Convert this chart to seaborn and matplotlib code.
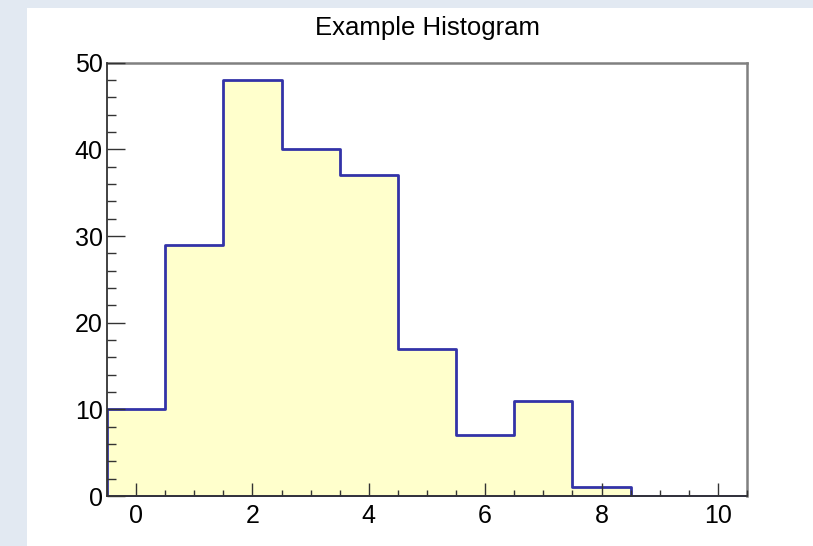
import matplotlib
matplotlib.use("Agg")
import matplotlib.pyplot as plt
from matplotlib.patches import Rectangle
from matplotlib.ticker import MultipleLocator
import seaborn as sns
import numpy as np

bin_centers = [0, 1, 2, 3, 4, 5, 6, 7, 8, 9, 10]
counts = [10, 29, 48, 40, 37, 17, 7, 11, 1, 0, 0]
bin_edges = [-0.5, 0.5, 1.5, 2.5, 3.5, 4.5, 5.5, 6.5, 7.5, 8.5, 9.5, 10.5]
x_ticks = [0, 2, 4, 6, 8, 10]
y_ticks = [0, 10, 20, 30, 40, 50]
title = "Example Histogram"

sns.set_theme(style="white")
plt.rcParams['font.family'] = ['Liberation Sans', 'DejaVu Sans']

fig = plt.figure(figsize=(8.13, 5.46), dpi=100)
fig.patch.set_facecolor("#e2e9f2")
fig.patches.append(Rectangle((27/813, 0), 1, (546-8)/546, transform=fig.transFigure,
                             facecolor="white", edgecolor="none", zorder=-5))

ax = fig.add_axes([107/813, 1-496/546, (747-107)/813, (496-62.7)/546])
ax.set_facecolor("white")

sns.histplot(x=bin_centers, weights=counts, bins=bin_edges, element="step", fill=True,
             color="#ffffcc", edgecolor="#3333a8", linewidth=2, alpha=1, ax=ax)
ax.set_axisbelow(False)

ax.set_xlim(-0.5, 10.5)
ax.set_ylim(0, 50)
ax.set_xticks(x_ticks)
ax.set_yticks(y_ticks)
ax.xaxis.set_minor_locator(MultipleLocator(0.5))
ax.yaxis.set_minor_locator(MultipleLocator(2))
ax.set_xlabel("")
ax.set_ylabel("")

ax.tick_params(axis="both", which="both", direction="in", colors="#333333",
               labelcolor="black", labelsize=18, width=1,
               bottom=True, left=True, top=False, right=False)
ax.tick_params(axis="x", which="major", length=9.5, pad=6)
ax.tick_params(axis="x", which="minor", length=4.5)
ax.tick_params(axis="y", which="major", length=13, pad=3)
ax.tick_params(axis="y", which="minor", length=6.5)

for side in ["left", "bottom"]:
    ax.spines[side].set_color("#333333")
    ax.spines[side].set_linewidth(1.3)
    ax.spines[side].set_zorder(3)
for side in ["top", "right"]:
    ax.spines[side].set_color("#808080")
    ax.spines[side].set_linewidth(1.8)
    ax.spines[side].set_visible(True)

ax.set_title(title, fontsize=18.5, pad=20, color="black")

fig.savefig("out.png", dpi=100, facecolor=fig.get_facecolor())
